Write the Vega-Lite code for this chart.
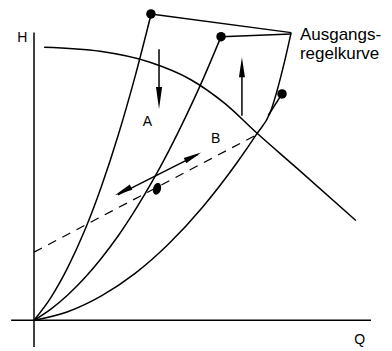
{
  "$schema": "https://vega.github.io/schema/vega-lite/v6.json",
  "width": 392,
  "height": 351,
  "autosize": {"type": "fit", "contains": "padding"},
  "padding": 0,
  "background": "white",
  "config": {"view": {"stroke": null}},
  "datasets": {
    "curves": [
      {"s": "axisQ", "o": 0, "Q": -6.8, "H": 0},
      {"s": "axisQ", "o": 1, "Q": 100, "H": 0},
      {"s": "axisH", "o": 0, "Q": 0, "H": -9.3},
      {"s": "axisH", "o": 1, "Q": 0, "H": 100},
      {"s": "pump", "o": 0, "Q": 3.0, "H": 94.9},
      {"s": "pump", "o": 1, "Q": 19.6, "H": 93.5},
      {"s": "pump", "o": 2, "Q": 34.4, "H": 89.7},
      {"s": "pump", "o": 3, "Q": 46.3, "H": 83.8},
      {"s": "pump", "o": 4, "Q": 56.7, "H": 75.3},
      {"s": "pump", "o": 5, "Q": 66.2, "H": 65.0},
      {"s": "pump", "o": 6, "Q": 78.0, "H": 52.9},
      {"s": "pump", "o": 7, "Q": 95.5, "H": 34.7},
      {"s": "c1", "o": 0, "Q": 0, "H": 0},
      {"s": "c1", "o": 1, "Q": 5, "H": 7.9},
      {"s": "c1", "o": 2, "Q": 10, "H": 18.3},
      {"s": "c1", "o": 3, "Q": 15, "H": 31.1},
      {"s": "c1", "o": 4, "Q": 20, "H": 46.5},
      {"s": "c1", "o": 5, "Q": 25, "H": 64.4},
      {"s": "c1", "o": 6, "Q": 30, "H": 84.8},
      {"s": "c1", "o": 7, "Q": 34.7, "H": 106.2},
      {"s": "c2", "o": 0, "Q": 0, "H": 0},
      {"s": "c2", "o": 1, "Q": 5, "H": 3.9},
      {"s": "c2", "o": 2, "Q": 10, "H": 8.8},
      {"s": "c2", "o": 3, "Q": 15, "H": 14.7},
      {"s": "c2", "o": 4, "Q": 20, "H": 21.6},
      {"s": "c2", "o": 5, "Q": 25, "H": 29.4},
      {"s": "c2", "o": 6, "Q": 30, "H": 38.3},
      {"s": "c2", "o": 7, "Q": 35, "H": 48.1},
      {"s": "c2", "o": 8, "Q": 40, "H": 58.9},
      {"s": "c2", "o": 9, "Q": 45, "H": 70.7},
      {"s": "c2", "o": 10, "Q": 50, "H": 83.4},
      {"s": "c2", "o": 11, "Q": 55.5, "H": 98.6},
      {"s": "c3", "o": 0, "Q": 0, "H": 0},
      {"s": "c3", "o": 1, "Q": 10, "H": 3.0},
      {"s": "c3", "o": 2, "Q": 20, "H": 8.5},
      {"s": "c3", "o": 3, "Q": 30, "H": 16.3},
      {"s": "c3", "o": 4, "Q": 40, "H": 26.6},
      {"s": "c3", "o": 5, "Q": 50, "H": 39.3},
      {"s": "c3", "o": 6, "Q": 60, "H": 54.4},
      {"s": "c3", "o": 7, "Q": 66, "H": 64.6},
      {"s": "c3", "o": 8, "Q": 70, "H": 72.0},
      {"s": "c3", "o": 9, "Q": 74.5, "H": 90.7},
      {"s": "c3", "o": 10, "Q": 76.3, "H": 100},
      {"s": "c3b", "o": 0, "Q": 69.5, "H": 71.2},
      {"s": "c3b", "o": 1, "Q": 73.6, "H": 78.7},
      {"s": "top1", "o": 0, "Q": 34.7, "H": 106.5},
      {"s": "top1", "o": 1, "Q": 76.3, "H": 100},
      {"s": "top2", "o": 0, "Q": 55.5, "H": 98.6},
      {"s": "top2", "o": 1, "Q": 76.3, "H": 99.5},
      {"s": "arrA", "o": 0, "Q": 37.1, "H": 94.2},
      {"s": "arrA", "o": 1, "Q": 37.1, "H": 80.0},
      {"s": "arrUp", "o": 0, "Q": 61.7, "H": 71.1},
      {"s": "arrUp", "o": 1, "Q": 61.7, "H": 85.5},
      {"s": "arrB", "o": 0, "Q": 24.9, "H": 43.6},
      {"s": "arrB", "o": 1, "Q": 48.7, "H": 57.7}
    ],
    "dashed": [
      {"Q": 0, "H": 23.7},
      {"Q": 66.2, "H": 64.6}
    ],
    "dots": [
      {"Q": 34.7, "H": 106.5},
      {"Q": 55.5, "H": 98.6},
      {"Q": 73.6, "H": 78.7}
    ],
    "headsDown": [{"Q": 37.1, "H": 77.3}],
    "headsUp": [{"Q": 61.7, "H": 88.0}],
    "headsUR": [{"Q": 47.2, "H": 56.9}],
    "headsLL": [{"Q": 26.4, "H": 44.9}],
    "blob": [{"Q": 36.5, "H": 45.7}],
    "labelsSmall": [
      {"t": "H", "Q": -5.0, "H": 96.9},
      {"t": "Q", "Q": 95.0, "H": -8.3},
      {"t": "A", "Q": 32.3, "H": 67.4},
      {"t": "B", "Q": 52.5, "H": 61.5}
    ],
    "labelsBig": [
      {"t": "Ausgangs-", "Q": 78.9, "H": 97.4},
      {"t": "regelkurve", "Q": 78.9, "H": 90.9}
    ]
  },
  "encoding": {
    "x": {"field": "Q", "type": "quantitative", "scale": {"domain": [-10.09, 106.23], "nice": false, "zero": false}, "axis": null},
    "y": {"field": "H", "type": "quantitative", "scale": {"domain": [-9.28, 111.34], "nice": false, "zero": false}, "axis": null}
  },
  "layer": [
    {
      "data": {"name": "curves"},
      "mark": {"type": "line", "color": "black", "strokeWidth": 1.5, "interpolate": "monotone", "clip": false},
      "encoding": {
        "detail": {"field": "s"},
        "order": {"field": "o", "type": "quantitative"},
        "strokeWidth": {"condition": {"test": "datum.s === 'axisQ' || datum.s === 'axisH'", "value": 2}, "value": 1.5}
      }
    },
    {
      "data": {"name": "dashed"},
      "mark": {"type": "line", "color": "black", "strokeWidth": 1.2, "strokeDash": [9, 7]},
      "encoding": {}
    },
    {
      "data": {"name": "dots"},
      "mark": {"type": "point", "shape": "circle", "filled": true, "color": "black", "opacity": 1, "size": 90}
    },
    {
      "data": {"name": "headsDown"},
      "mark": {"type": "point", "shape": "M-0.28,-1L0.28,-1L0,1Z", "filled": true, "color": "black", "opacity": 1, "size": 484}
    },
    {
      "data": {"name": "headsUp"},
      "mark": {"type": "point", "shape": "M0,-1L0.3,1L-0.3,1Z", "filled": true, "color": "black", "opacity": 1, "size": 400}
    },
    {
      "data": {"name": "headsUR"},
      "mark": {"type": "point", "shape": "M0,-1L0.32,1L-0.32,1Z", "filled": true, "color": "black", "opacity": 1, "size": 324, "angle": 63.4}
    },
    {
      "data": {"name": "headsLL"},
      "mark": {"type": "point", "shape": "M0,-1L0.32,1L-0.32,1Z", "filled": true, "color": "black", "opacity": 1, "size": 324, "angle": 243.4}
    },
    {
      "data": {"name": "blob"},
      "mark": {"type": "point", "shape": "M0,-1C0.37,-1 0.67,-0.55 0.67,0C0.67,0.55 0.37,1 0,1C-0.37,1 -0.67,0.55 -0.67,0C-0.67,-0.55 -0.37,-1 0,-1Z", "filled": true, "color": "black", "opacity": 1, "size": 144, "angle": 15}
    },
    {
      "data": {"name": "labelsSmall"},
      "mark": {"type": "text", "align": "left", "baseline": "alphabetic", "font": "Liberation Sans", "fontSize": 14, "color": "black"},
      "encoding": {"text": {"field": "t"}}
    },
    {
      "data": {"name": "labelsBig"},
      "mark": {"type": "text", "align": "left", "baseline": "alphabetic", "font": "Liberation Sans", "fontSize": 17, "color": "black"},
      "encoding": {"text": {"field": "t"}}
    }
  ]
}
